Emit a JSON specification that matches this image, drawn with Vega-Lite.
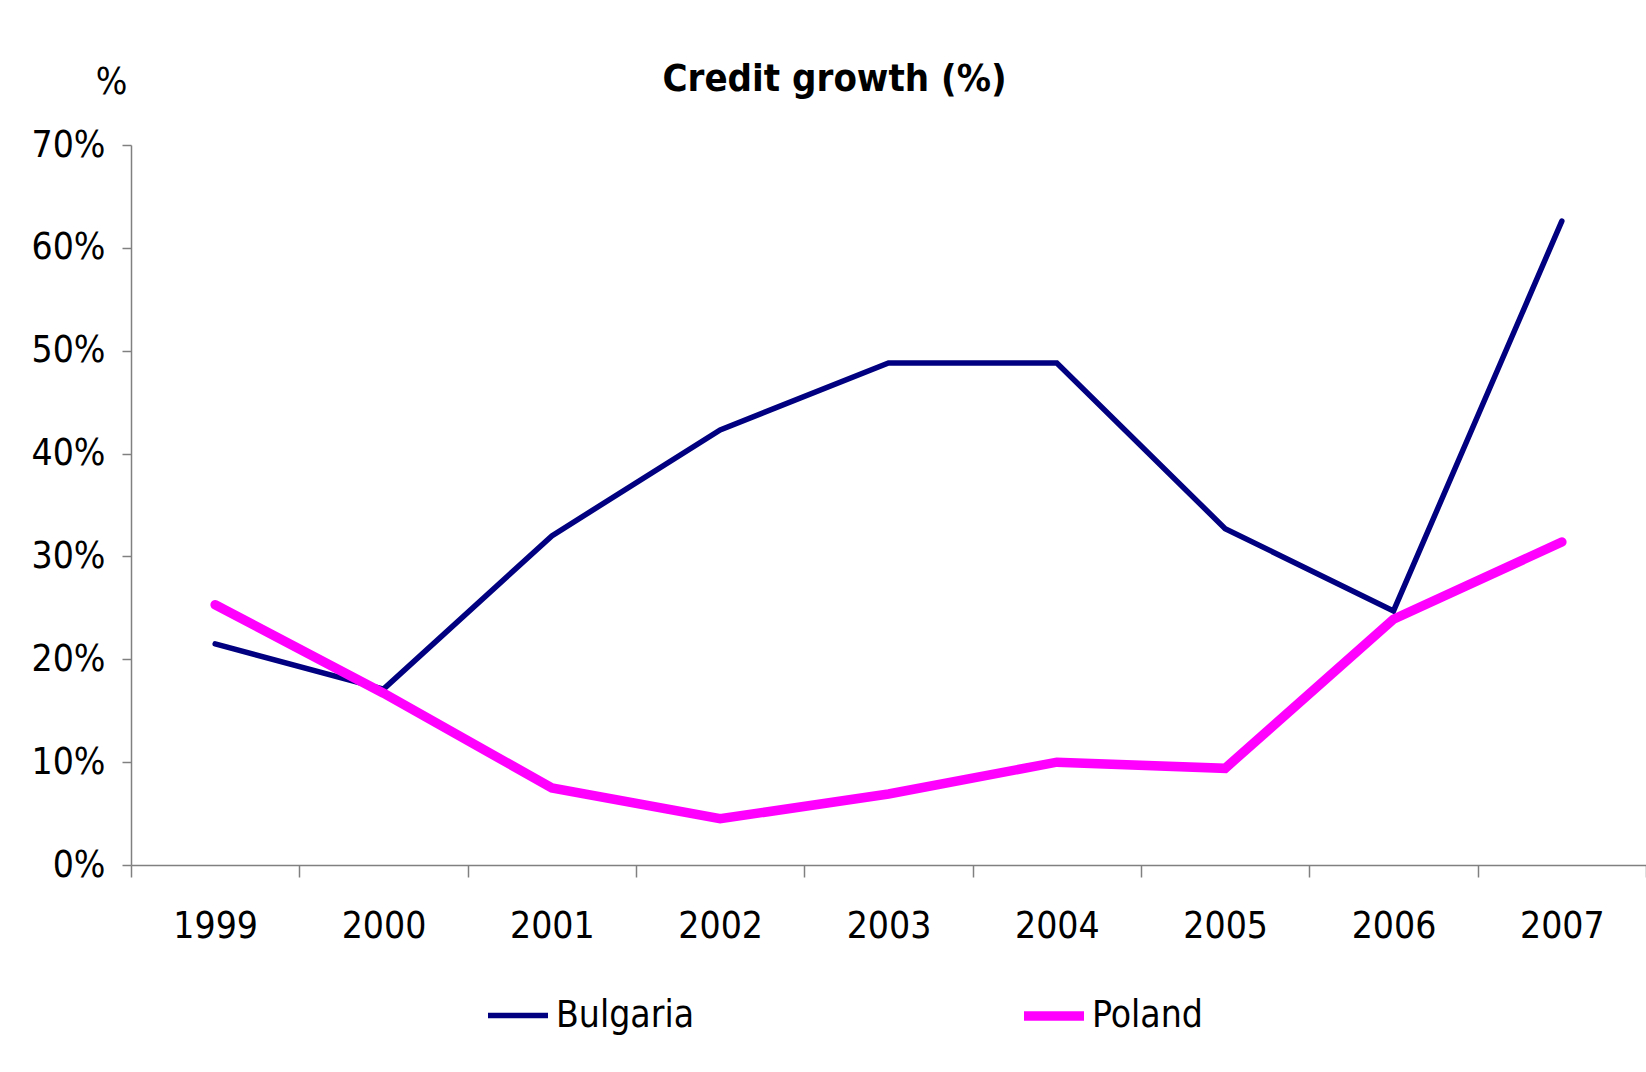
{
  "$schema": "https://vega.github.io/schema/vega-lite/v6.json",
  "width": 1515,
  "height": 720,
  "autosize": {"type": "none"},
  "padding": {"left": 131, "top": 145, "right": 0, "bottom": 207},
  "background": "white",
  "title": {
    "text": "Credit growth (%)",
    "font": "DejaVu Sans Condensed",
    "fontSize": 38,
    "fontWeight": "bold",
    "color": "black",
    "anchor": "middle",
    "dx": -54,
    "baseline": "alphabetic",
    "offset": -66
  },
  "data": {
    "values": [
      {"year": "1999", "country": "Bulgaria", "value": 0.215},
      {"year": "2000", "country": "Bulgaria", "value": 0.171},
      {"year": "2001", "country": "Bulgaria", "value": 0.320},
      {"year": "2002", "country": "Bulgaria", "value": 0.423},
      {"year": "2003", "country": "Bulgaria", "value": 0.488},
      {"year": "2004", "country": "Bulgaria", "value": 0.488},
      {"year": "2005", "country": "Bulgaria", "value": 0.327},
      {"year": "2006", "country": "Bulgaria", "value": 0.247},
      {"year": "2007", "country": "Bulgaria", "value": 0.626},
      {"year": "1999", "country": "Poland", "value": 0.253},
      {"year": "2000", "country": "Poland", "value": 0.167},
      {"year": "2001", "country": "Poland", "value": 0.075},
      {"year": "2002", "country": "Poland", "value": 0.045},
      {"year": "2003", "country": "Poland", "value": 0.069},
      {"year": "2004", "country": "Poland", "value": 0.100},
      {"year": "2005", "country": "Poland", "value": 0.094},
      {"year": "2006", "country": "Poland", "value": 0.239},
      {"year": "2007", "country": "Poland", "value": 0.314}
    ]
  },
  "mark": {"type": "line", "strokeCap": "round", "strokeJoin": "miter"},
  "encoding": {
    "x": {
      "field": "year",
      "type": "ordinal",
      "scale": {"type": "band", "paddingInner": 0, "paddingOuter": 0},
      "axis": {
        "title": null,
        "labelAngle": 0,
        "tickBand": "extent",
        "tickSize": 12,
        "labelPadding": 49,
        "labelBaseline": "middle",
        "labelFontSize": 37,
        "labelFont": "DejaVu Sans Condensed",
        "labelColor": "black",
        "domainColor": "#808080",
        "tickColor": "#808080",
        "domainWidth": 1.5,
        "tickWidth": 1.5
      }
    },
    "y": {
      "field": "value",
      "type": "quantitative",
      "scale": {"domain": [0, 0.7], "nice": false, "zero": true},
      "axis": {
        "values": [0, 0.1, 0.2, 0.3, 0.4, 0.5, 0.6, 0.7],
        "format": ".0%",
        "grid": false,
        "tickSize": 9,
        "labelPadding": 17,
        "labelFontSize": 37,
        "labelFont": "DejaVu Sans Condensed",
        "labelColor": "black",
        "domainColor": "#808080",
        "tickColor": "#808080",
        "domainWidth": 1.5,
        "tickWidth": 1.5,
        "title": "%",
        "titleAngle": 0,
        "titleX": -20,
        "titleY": -52,
        "titleAlign": "center",
        "titleBaseline": "alphabetic",
        "titleFontSize": 37,
        "titleFontWeight": "normal",
        "titleFont": "DejaVu Sans Condensed",
        "titleColor": "black"
      }
    },
    "color": {
      "field": "country",
      "type": "nominal",
      "scale": {"domain": ["Bulgaria", "Poland"], "range": ["#000080", "#ff00ff"]},
      "legend": {
        "title": null,
        "orient": "none",
        "legendX": 352,
        "legendY": 836,
        "direction": "horizontal",
        "columns": 2,
        "columnPadding": 310,
        "padding": 0,
        "symbolType": "stroke",
        "symbolSize": 3600,
        "labelOffset": 3,
        "labelFontSize": 37,
        "labelFont": "DejaVu Sans Condensed",
        "labelColor": "black",
        "labelLimit": 400
      }
    },
    "strokeWidth": {
      "field": "country",
      "type": "nominal",
      "scale": {"domain": ["Bulgaria", "Poland"], "range": [5.5, 9.5]}
    }
  },
  "config": {"view": {"stroke": null}}
}
